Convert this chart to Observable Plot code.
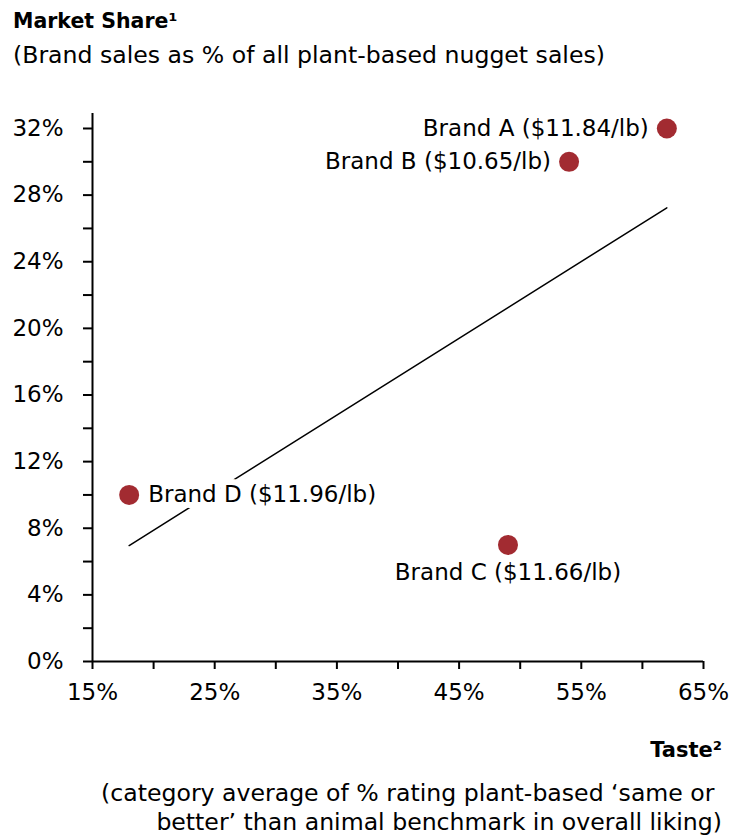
<!DOCTYPE html>
<html><head><meta charset="utf-8">
<script src="https://cdn.jsdelivr.net/npm/d3@7"></script>
<script src="https://cdn.jsdelivr.net/npm/@observablehq/plot@0.6"></script>
<style>
body{margin:0;background:#fff;font-family:"DejaVu Sans",sans-serif;color:#000;}
#wrap{position:relative;width:743px;height:837px;overflow:hidden;}
.t{position:absolute;white-space:nowrap;}
</style></head><body>
<div id="wrap">
<div class="t" style="left:13px;top:9px;font-weight:700;font-size:20.5px;line-height:normal;">Market Share¹</div>
<div class="t" style="left:13px;top:41px;font-size:23.6px;line-height:normal;">(Brand sales as % of all plant-based nugget sales)</div>
<div id="chart" style="position:absolute;left:0;top:80px;"></div>
<div class="t" style="right:21px;top:738px;font-weight:700;font-size:21px;line-height:normal;">Taste²</div>
<div class="t" style="right:21px;top:779px;font-size:23.6px;text-align:right;line-height:29px;">(category average of % rating plant-based ‘same or&nbsp;<br>better’ than animal benchmark in overall liking)</div>
</div>
<script>
const brands = ["Brand A", "Brand B", "Brand C", "Brand D"];
const prices = ["$11.84/lb", "$10.65/lb", "$11.66/lb", "$11.96/lb"];
const taste = [62, 54, 49, 18];
const share = [32, 30, 7, 10];
const xTicks = [15, 25, 35, 45, 55, 65];
const xMinorTicks = [20, 30, 40, 50, 60];
const yTicks = [0, 4, 8, 12, 16, 20, 24, 28, 32];
const yMinorTicks = [2, 6, 10, 14, 18, 22, 26, 30];

const data = brands.map((b, i) => ({brand: b, label: `${b} (${prices[i]})`, taste: taste[i], share: share[i]}));
const pick = names => data.filter(d => names.includes(d.brand));
const pct = d => d + "%";
const dotColor = "#a22b31";
const font = "'DejaVu Sans', sans-serif";

const chart = Plot.plot({
  width: 743,
  height: 640,
  marginLeft: 92,
  marginRight: 40,
  marginTop: 33,
  marginBottom: 59,
  style: {fontFamily: font, fontSize: "23px", color: "black", background: "white"},
  x: {domain: [15, 65], axis: null},
  y: {domain: [0, 32.9], axis: null},
  marks: [
    Plot.linearRegressionY(data, {x: "taste", y: "share", ci: 0, stroke: "black", strokeWidth: 1.5}),
    Plot.ruleX([15], {stroke: "black", strokeWidth: 2}),
    Plot.ruleY([0], {stroke: "black", strokeWidth: 2}),
    Plot.axisY(yTicks, {anchor: "left", tickSize: 9, tickPadding: 20, tickFormat: pct, fontSize: 23, strokeWidth: 2, label: null}),
    Plot.axisY(yMinorTicks, {anchor: "left", tickSize: 9, tickFormat: () => "", strokeWidth: 2, label: null}),
    Plot.axisX(xTicks, {anchor: "bottom", tickSize: 8, tickPadding: 14, tickFormat: pct, fontSize: 23, strokeWidth: 2, label: null}),
    Plot.axisX(xMinorTicks, {anchor: "bottom", tickSize: 8, tickFormat: () => "", strokeWidth: 2, label: null}),
    Plot.text(pick(["Brand A", "Brand B"]), {x: "taste", y: "share", text: "label", textAnchor: "end", dx: -18, fontSize: 23, fill: "black"}),
    Plot.text(pick(["Brand D"]), {x: "taste", y: "share", text: "label", textAnchor: "start", dx: 19, fontSize: 23, fill: "black", stroke: "white", strokeWidth: 12, strokeLinejoin: "round", paintOrder: "stroke"}),
    Plot.text(pick(["Brand C"]), {x: "taste", y: "share", text: "label", textAnchor: "middle", dy: 28, fontSize: 23, fill: "black"}),
    Plot.dot(data, {x: "taste", y: "share", r: 10, fill: dotColor})
  ]
});
document.getElementById("chart").append(chart);
</script>
</body></html>
